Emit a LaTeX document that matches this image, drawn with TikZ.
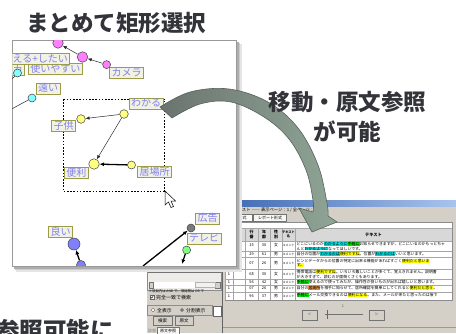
\documentclass[tikz,border=0pt]{standalone}
\usepackage{fontspec}
\setmainfont{Noto Sans CJK JP}
\usetikzlibrary{arrows.meta}
\definecolor{winbg}{HTML}{D4D0C8}
\definecolor{lblfill}{HTML}{F2F2E4}
\definecolor{lbldraw}{HTML}{9C9C48}
\definecolor{lbltext}{HTML}{8080EE}
\definecolor{magc}{HTML}{FF80FF}
\definecolor{cyac}{HTML}{80FFFF}
\definecolor{yelc}{HTML}{FFFF80}
\definecolor{bluc}{HTML}{8080FF}
\definecolor{grac}{HTML}{7A7A7A}
\definecolor{grec}{HTML}{80FF80}
\definecolor{titlec}{HTML}{33333A}
\definecolor{arrdark}{HTML}{6B746F}
\definecolor{arrlight}{HTML}{8FA596}
\definecolor{arredge}{HTML}{56625A}
\definecolor{hcy}{HTML}{00D8D8}
\definecolor{hgr}{HTML}{00E000}
\definecolor{hye}{HTML}{FFFF00}
\definecolor{hor}{HTML}{E09040}
\definecolor{barL}{HTML}{1C4AA0}
\definecolor{barR}{HTML}{A8C4EC}
\definecolor{hdrc}{HTML}{D8D8D8}
\newcommand\hlx[2]{{\setlength{\fboxsep}{0.15pt}\colorbox{#1}{#2}}}
\tikzset{
 lbl/.style={draw=lbldraw, fill=lblfill, text=lbltext, line width=0.6pt,
   font=\fontsize{10}{12}\selectfont, inner xsep=1.8pt, inner ysep=0.6pt,
   text height=8.3pt, text depth=1.6pt},
 dot/.style={circle, draw=black!75, line width=0.5pt, inner sep=0pt, minimum size=#1},
 thinline/.style={draw=black!85, line width=0.5pt},
 thinarr/.style={draw=black!85, line width=0.5pt, -{Latex[length=4pt,width=3.4pt]}},
 thickarr/.style={draw=black, line width=1.3pt, -{Latex[length=4.5pt,width=4pt]}},
 bigtxt/.style={font=\fontsize{22.5}{26}\selectfont\bfseries, text=titlec, inner sep=0pt},
 tiny/.style={font=\fontsize{3.9}{4.6}\selectfont, inner sep=0pt},
 tblline/.style={draw=black!35, line width=0.3pt},
 btnbox/.style={draw=black!55, fill=winbg, line width=0.4pt, inner sep=0pt},
}
\begin{document}
\begin{tikzpicture}[x=1pt,y=-1pt]
\useasboundingbox (0,0) rectangle (456,333);
\fill[white] (0,0) rectangle (456,333);

% ---------- back window ----------
\fill[winbg] (147,200) rectangle (456,333);
\shade[left color=barL, right color=barR] (147,200.5) rectangle (456,206.5);
\node[tiny, anchor=west, font=\fontsize{4.3}{5}\selectfont] (wtitle) at (229,210.5) {全テキスト ―― 表示ページ：1 / 全ページ：1};
\node[btnbox, fill=white!92!winbg, minimum width=27pt, minimum height=7pt, font=\fontsize{4}{5}\selectfont] (tab1) at (238.5,218) {原文形式};
\node[btnbox, fill=white!80!winbg, minimum width=33pt, minimum height=7pt, font=\fontsize{4}{5}\selectfont] (tab2) at (270,218) {レポート形式};
\fill[white] (225,222) rectangle (452,300);
\draw[black!45, line width=0.4pt] (225,222) rectangle (452,300);
\fill[hdrc] (225,228) rectangle (452,241);
\foreach \yy in {228,241,251,257,269,279,285,292} \draw[tblline] (225,\yy) -- (452,\yy);
\foreach \xx in {233,245,258,270,282,295} \draw[tblline] (\xx,228) -- (\xx,300);
\node[tiny, font=\fontsize{4}{4.6}\selectfont\bfseries, align=center] (h1) at (239,234.5) {学\\部};
\node[tiny, font=\fontsize{4}{4.6}\selectfont\bfseries, align=center] (h2) at (251.5,234.5) {行\\番};
\node[tiny, font=\fontsize{4}{4.6}\selectfont\bfseries, align=center] (h3) at (264,234.5) {年\\齢};
\node[tiny, font=\fontsize{4}{4.6}\selectfont\bfseries, align=center] (h4) at (276,234.5) {性\\別};
\node[tiny, font=\fontsize{3.2}{4.2}\selectfont\bfseries, align=center] (h5) at (288.5,234.5) {テキスト\\名};
\node[tiny, font=\fontsize{4.2}{5}\selectfont\bfseries] (h6) at (373.5,234.5) {テキスト};
\foreach \i/\yc/\a/\b/\c/\d in {1/245/{}/15/30/女, 2/254/{}/29/61/男, 3/263/{}/07/26/男, 4/274/1/68/30/女, 5/282/1/56/42/女, 6/288.5/1/07/26/男, 7/296/1/96/37/男}{
  \node[tiny] (ca\i) at (229,\yc) {\a};
  \node[tiny] (cb\i) at (251.5,\yc) {\b};
  \node[tiny] (cc\i) at (264,\yc) {\c};
  \node[tiny] (cd\i) at (276,\yc) {\d};
  \node[tiny, font=\fontsize{3}{4}\selectfont] (ce\i) at (288.5,\yc) {コメント};
}
\node[tiny, anchor=north west, align=left] (t1) at (296.5,241.8) {どこにいるのか\hlx{hcy}{わかるように}\hlx{hgr}{手軽に}お知らせできますが、どこにいるのかもっとちゃ\\んと\hlx{hcy}{わかるように}なってほしいです。};
\node[tiny, anchor=north west, align=left] (t2) at (296.5,251.8) {自分の位置が\hlx{hcy}{わかるのは}\hlx{hye}{便利ですね}。位置が\hlx{hcy}{わかるのは}いいと思います。};
\node[tiny, anchor=north west, align=left] (t3) at (296.5,258.5) {ピンとデータからの位置の特定に出来る機能があればすごく\hlx{hye}{便利だと思いま}\\\hlx{hye}{す。}};
\node[tiny, anchor=north west, align=left] (t4) at (296.5,269.8) {携帯電話は\hlx{hye}{便利ですね}。いろいろ難しいことが多くて、覚えきれません。説明書\\が大きすぎて、読むのが面倒くさくもあります。};
\node[tiny, anchor=north west, align=left] (t5) at (296.5,279.8) {\hlx{hgr}{手軽に}使えるので使ってみたが、操作性が良いものが出れば嬉しいと思います。};
\node[tiny, anchor=north west, align=left] (t6) at (296.5,286) {自分の\hlx{hor}{居場所}を相手に知らせて、居所確認を簡単にしてくれると\hlx{hye}{便利だと思う}。};
\node[tiny, anchor=north west, align=left] (t7) at (296.5,292.8) {\hlx{hgr}{手軽に}メール交換できるのは\hlx{hye}{便利になる}。また、メールが来たと思ったのは後で};
% lower panel
\node[btnbox, minimum width=15pt, minimum height=10pt, text=black!50, font=\fontsize{6}{6}\selectfont] (bprev) at (309.5,315) {<};
\node[btnbox, minimum width=15pt, minimum height=10pt, text=black!50, font=\fontsize{6}{6}\selectfont] (bnext) at (376.5,315) {>};
\draw[black!55, line width=0.5pt] (325,314) -- (363,314);
\draw[black!60, line width=0.8pt] (327,309.5) -- (327,318.5);
\node[tiny, text=black!60] (slnum) at (343,306.5) {1};
\draw[white, line width=0.6pt] (222,327.5) -- (456,327.5);
\draw[black!40, line width=0.4pt] (222,327) -- (456,327);
% left pane
\draw[black!60, line width=0.5pt] (222,262) -- (222,333);
\draw[black!35, line width=0.4pt] (225.5,262) -- (225.5,300);
\draw[black!45, line width=0.4pt, fill=white!60!winbg] (147.5,262) rectangle (221,290.5);
\draw[btnbox] (148,264) rectangle (157,272.5);
\draw[btnbox] (157,264) rectangle (183,272.5);
\draw[btnbox] (183,264) rectangle (220.5,272.5);
\fill[black!80] (151.5,267) rectangle (153.5,269);
\fill[white] (149,282) rectangle (220,288);
\draw[btnbox] (149,282) rectangle (153.5,288);
\draw[btnbox] (215.5,282) rectangle (220,288);
\draw[black!30, fill=white!70!winbg, line width=0.3pt] (195,282.5) rectangle (215,287.5);
\node[tiny, anchor=west, font=\fontsize{3.4}{4}\selectfont] (note) at (148.5,291.5) {※項目内は AND で、項目間は OR で};
\draw[black!60, fill=white, line width=0.3pt] (150,295) rectangle (154,299);
\draw[black, line width=0.4pt] (150.8,297) -- (151.8,298.2) -- (153.3,295.8);
\node[tiny, anchor=west, font=\fontsize{5}{5}\selectfont] (exact) at (156,297.2) {完全一致で検索};
\draw[black!45, line width=0.4pt] (147.5,305) rectangle (212,315);
\draw[black!60, fill=white, line width=0.3pt] (153,310) circle (1.8pt);
\node[tiny, anchor=west, font=\fontsize{4.8}{5}\selectfont] (allv) at (157,310.2) {全表示};
\draw[black!60, fill=white, line width=0.3pt] (182,310) circle (1.8pt);
\fill[black] (182,310) circle (0.8pt);
\node[tiny, anchor=west, font=\fontsize{4.8}{5}\selectfont] (splitv) at (186,310.2) {分割表示};
\draw[black!60, fill=white, line width=0.4pt] (213.5,306) rectangle (221.5,316);
\node[btnbox, minimum width=19pt, minimum height=9pt, font=\fontsize{4.5}{5}\selectfont] (bsearch) at (162.5,320.5) {検索};
\node[btnbox, minimum width=18pt, minimum height=9pt, font=\fontsize{4.5}{5}\selectfont] (borig) at (184,320.5) {原文};
\node[tiny, text=black!45, font=\fontsize{4}{5}\selectfont] (tdict) at (152,330.5) {辞書};
\node[btnbox, fill=white!85!winbg, minimum width=22pt, minimum height=6.5pt, anchor=north, font=\fontsize{4}{5}\selectfont] (tref) at (168,327.2) {原文参照};

% ---------- graph window ----------
\fill[black!10] (16,44) rectangle (241.5,271.5);
\fill[black!20] (15,43) rectangle (240,270);
\fill[black!32] (14,42) rectangle (238.5,268.5);
\fill[white] (12,40) rectangle (236,266);
\draw[black!40, line width=0.7pt] (12,40) rectangle (236,266);

\begin{scope}
\clip (12.4,40.4) rectangle (235.6,265.6);
\draw[black, dash pattern=on 1.6pt off 1.6pt, line width=0.5pt] (63,99) rectangle (164,191);
% nodes
\node[lbl, anchor=east] (lka) at (25,70) {カ};
\node[lbl] (lyasui) at (55.5,69) {使いやすい};
\node[lbl, anchor=east] (loshie) at (70,59) {える+したい};
\node[lbl] (lcamera) at (126.5,73) {カメラ};
\node[lbl] (ltooi) at (48,88.5) {遠い};
\node[lbl] (lwakaru) at (146,103.5) {わかる};
\node[lbl] (lkodomo) at (63.5,126) {子供};
\node[lbl] (lbenri) at (76.5,173) {便利};
\node[lbl] (libasho) at (154.5,172) {居場所};
\node[lbl] (lyoi) at (60.5,232) {良い};
\node[lbl] (lkoukoku) at (207.5,218.5) {広告};
\node[lbl] (ltv) at (204,238.5) {テレビ};
\node[dot=10.5pt, fill=magc] (m1) at (58,43) {};
\node[dot=10.5pt, fill=magc] (m2) at (82.5,57) {};
\node[dot=8pt, fill=magc] (m3) at (106.6,64.6) {};
\node[dot=8pt, fill=cyac] (c1) at (17.5,73) {};
\node[dot=8pt, fill=cyac] (c2) at (32,98) {};
\node[dot=8.6pt, fill=yelc] (y1) at (124,114) {};
\node[dot=8.6pt, fill=yelc] (y2) at (81,119) {};
\node[dot=10.5pt, fill=yelc] (y3) at (94,164) {};
\node[dot=8pt, fill=yelc] (y4) at (131.5,165) {};
\node[dot=12pt, fill=bluc] (b1) at (74,244) {};
\node[dot=9pt, fill=bluc] (b2) at (81,265) {};
\node[dot=8pt, fill=grac] (g1) at (191,228) {};
\node[dot=8pt, fill=grec] (gr) at (186.6,250) {};
\coordinate (e1) at (6,86);
\coordinate (e2) at (6,112);
\coordinate (e3) at (143,266);
\coordinate (e4) at (182,264);
% edges
\draw[thinarr] (m2) -- (m1);
\draw[thinarr] (m3) -- (m2);
\draw[thinline] (c1) -- (e1);
\draw[thinline] (c2) -- (e2);
\draw[thinarr] (y1) -- (y2);
\draw[thinarr] (y1) -- (y3);
\draw[thickarr] (y4) -- (y3);
\draw[thickarr] (b2) -- (b1);
\draw[thickarr] (e3) -- (g1);
\draw[thickarr] (gr) -- (e4);
% cursor
\filldraw[fill=white, draw=black, line width=0.5pt] (165,191) -- (165,205) -- (168.5,202) -- (171,207.5) -- (173.5,206.5) -- (171,201) -- (175.5,201) -- cycle;
\end{scope}

% ---------- big curved arrow ----------
\shade[left color=arrdark, right color=arrlight, draw=arredge, line width=0.6pt]
 plot[smooth, tension=0.6] coordinates {(160,107) (190,92) (229,89) (268,102) (298,128) (318,165) (327,203) (328,216)}
 -- (337,222) -- (312,232) -- (299,208)
 -- plot[smooth, tension=0.6] coordinates {(313,212) (313,200) (306,170) (289,139) (264,117) (231,102) (200,104) (172,118)}
 -- cycle;

% ---------- captions ----------
\node[bigtxt] (title) at (116.5,23) {まとめて矩形選択};
\node[bigtxt] (move1) at (347.5,102) {移動・原文参照};
\node[bigtxt] (move2) at (347.5,132) {が可能};
\node[bigtxt, anchor=east, font=\fontsize{23.5}{26}\selectfont\bfseries] (bottomtxt) at (114,331) {参照可能に};
\end{tikzpicture}
\end{document}
